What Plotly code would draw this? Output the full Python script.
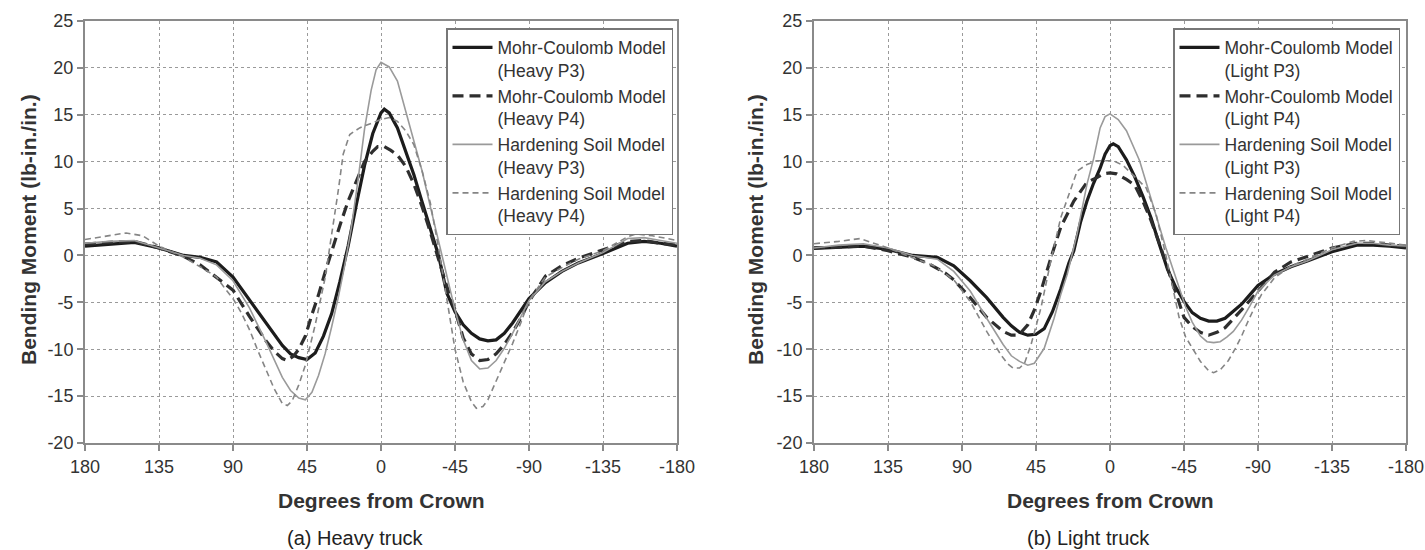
import plotly.graph_objects as go

# ---------------- data (degrees from crown, bending moment lb-in./in.) ----------------
heavy_mc_p3_deg = [180,165,150,135,120,110,100,90,80,70,60,55,50,45,40,35,30,25,20,15,10,5,0,-2,-5,-10,-15,-20,-25,-30,-35,-40,-45,-50,-55,-60,-65,-70,-75,-80,-85,-90,-100,-110,-120,-135,-150,-160,-170,-180]
heavy_mc_p3_val = [1.0,1.2,1.4,0.8,0.0,-0.2,-0.7,-2.3,-4.7,-7.1,-9.6,-10.5,-10.9,-11.1,-10.4,-8.6,-6.2,-2.8,1.0,5.4,9.6,13.0,15.2,15.6,15.2,13.6,11.2,8.6,5.7,2.8,0.0,-4.0,-6.0,-7.4,-8.3,-8.9,-9.1,-9.0,-8.3,-7.2,-5.9,-4.6,-2.9,-1.7,-0.8,0.2,1.3,1.5,1.3,1.0]

heavy_mc_p4_deg = [180,165,150,135,125,120,110,100,90,80,70,65,60,57,53,50,46,42,38,34,30,25,20,15,10,5,2,-2,-6,-10,-15,-20,-25,-30,-35,-40,-45,-50,-55,-60,-65,-70,-75,-80,-85,-90,-100,-110,-120,-135,-150,-160,-170,-180]
heavy_mc_p4_val = [1.2,1.4,1.5,0.8,0.2,-0.1,-1.0,-2.3,-3.7,-6.5,-9.1,-10.2,-11.0,-11.2,-10.7,-10.0,-8.6,-6.3,-4.2,-1.8,0.5,3.2,5.8,8.0,10.0,11.1,11.6,11.6,11.2,10.7,9.5,7.6,5.2,2.5,-0.3,-3.3,-5.8,-8.8,-10.5,-11.2,-11.1,-10.5,-9.5,-8.2,-6.7,-4.9,-2.2,-1.1,-0.3,0.6,1.5,1.6,1.3,1.1]

heavy_hs_p3_deg = [180,165,150,135,120,110,100,90,80,70,60,55,50,46,42,38,34,30,26,22,18,14,10,6,3,0,-5,-10,-15,-20,-25,-30,-35,-40,-45,-50,-55,-60,-65,-70,-75,-80,-85,-90,-100,-110,-120,-135,-150,-160,-170,-180]
heavy_hs_p3_val = [1.3,1.5,1.6,0.8,0.0,-0.3,-1.0,-2.7,-5.6,-9.2,-13.0,-14.4,-15.2,-15.4,-14.6,-12.8,-10.5,-7.6,-4.5,-1.0,3.0,8.0,13.5,17.6,19.8,20.6,20.1,18.6,15.4,12.4,9.0,5.2,1.5,-2.3,-5.8,-9.0,-11.2,-12.1,-12.0,-11.2,-9.9,-8.3,-6.6,-4.8,-2.8,-1.7,-0.8,0.3,1.8,1.9,1.6,1.3]

heavy_hs_p4_deg = [180,165,155,145,135,125,120,110,100,95,90,85,80,75,70,65,60,57,54,50,46,40,34,30,26,23,19,13,5,0,-5,-10,-15,-20,-25,-30,-35,-40,-45,-50,-55,-58,-62,-65,-70,-75,-80,-85,-90,-100,-110,-120,-135,-150,-155,-165,-180]
heavy_hs_p4_val = [1.7,2.1,2.4,2.1,1.0,0.2,-0.2,-1.2,-2.3,-3.5,-4.6,-6.1,-7.9,-10.1,-12.2,-14.2,-15.8,-16.0,-15.5,-13.8,-11.7,-7.4,-2.4,2.2,6.9,10.8,12.9,13.6,14.2,14.5,14.7,14.3,13.3,11.8,9.0,5.6,0.8,-4.5,-10.0,-13.5,-15.6,-16.3,-16.1,-15.4,-13.4,-11.4,-9.4,-7.2,-4.8,-2.3,-1.3,-0.4,0.5,2.0,2.3,2.1,1.6]

light_mc_p3_deg = [180,165,150,135,120,105,95,85,75,65,60,55,50,45,40,35,30,25,22,18,14,10,6,3,0,-2,-5,-10,-15,-20,-25,-30,-35,-40,-45,-50,-55,-60,-65,-70,-75,-80,-85,-90,-100,-110,-120,-135,-150,-160,-170,-180]
light_mc_p3_val = [0.75,0.9,1.0,0.65,0.0,-0.2,-1.1,-2.7,-4.5,-6.6,-7.5,-8.2,-8.5,-8.4,-7.8,-6.0,-3.6,-0.8,0.5,3.5,5.8,7.7,9.3,10.8,11.7,11.9,11.6,10.2,8.4,6.3,4.0,1.2,-1.5,-3.4,-4.9,-6.1,-6.7,-7.0,-7.0,-6.7,-6.0,-5.2,-4.2,-3.2,-2.0,-1.2,-0.6,0.4,1.1,1.1,1.0,0.8]

light_mc_p4_deg = [180,165,150,135,120,110,100,95,85,75,65,60,57,54,50,46,42,36,30,22,14,8,4,0,-4,-10,-15,-20,-25,-30,-35,-40,-45,-50,-55,-60,-65,-70,-75,-80,-85,-90,-100,-110,-120,-135,-150,-160,-170,-180]
light_mc_p4_val = [0.8,0.9,1.0,0.5,-0.2,-0.9,-1.9,-2.6,-4.5,-6.6,-8.1,-8.5,-8.5,-8.2,-7.4,-5.8,-3.8,-0.3,3.0,5.8,7.8,8.3,8.7,8.8,8.7,8.1,7.5,5.8,3.7,1.3,-1.3,-3.8,-6.6,-7.6,-8.2,-8.5,-8.2,-7.7,-6.8,-5.8,-4.8,-3.8,-1.8,-0.7,-0.1,0.8,1.3,1.3,1.1,1.0]

light_hs_p3_deg = [180,165,150,135,120,105,95,85,75,65,60,55,50,46,40,34,30,26,20,14,10,6,3,0,-5,-10,-18,-26,-30,-34,-38,-42,-46,-50,-55,-59,-63,-67,-71,-75,-80,-85,-90,-100,-110,-120,-135,-150,-160,-170,-180]
light_hs_p3_val = [0.8,1.1,1.25,0.8,0.0,-0.4,-1.7,-3.8,-6.7,-9.5,-10.7,-11.3,-11.7,-11.5,-9.9,-6.7,-4.2,-2.0,2.3,7.6,10.3,13.6,14.8,15.1,14.5,13.3,10.1,5.4,3.0,0.8,-1.3,-3.5,-5.5,-7.1,-8.6,-9.2,-9.3,-9.2,-8.7,-8.1,-6.9,-5.4,-3.8,-2.1,-1.2,-0.6,0.6,1.3,1.3,1.1,1.0]

light_hs_p4_deg = [180,165,152,135,120,107,95,85,75,66,62,59,55,52,48,42,36,30,22,20,14,8,2,-2,-8,-14,-22,-28,-34,-38,-42,-46,-50,-55,-60,-63,-67,-72,-76,-80,-84,-88,-92,-100,-110,-120,-135,-148,-156,-170,-180]
light_hs_p4_val = [1.25,1.5,1.8,0.8,-0.25,-1.1,-2.6,-4.9,-8.1,-10.7,-11.6,-12.0,-12.0,-11.5,-9.5,-5.6,-0.6,4.0,8.0,9.0,9.7,10.1,10.1,10.1,9.6,8.6,7.2,4.4,0.0,-3.3,-6.6,-8.7,-9.8,-11.3,-12.3,-12.5,-12.2,-11.2,-10.0,-8.6,-7.0,-5.5,-4.2,-2.4,-1.1,-0.4,0.8,1.5,1.6,1.3,1.1]

x_ticks = [180, 135, 90, 45, 0, -45, -90, -135, -180]
x_tick_labels = ["180", "135", "90", "45", "0", "-45", "-90", "-135", "-180"]
y_ticks = [-20, -15, -10, -5, 0, 5, 10, 15, 20, 25]
y_tick_labels = ["-20", "-15", "-10", "-5", "0", "5", "10", "15", "20", "25"]

model_names = ["Mohr-Coulomb Model", "Mohr-Coulomb Model", "Hardening Soil Model", "Hardening Soil Model"]
heavy_cases = ["(Heavy P3)", "(Heavy P4)", "(Heavy P3)", "(Heavy P4)"]
light_cases = ["(Light P3)", "(Light P4)", "(Light P3)", "(Light P4)"]

# ---------------- styling ----------------
W, H = 1425, 550
FONT = "Liberation Sans, Arial, sans-serif"
styles = [
    dict(color="#1c1c1c", width=3.2, dash="solid"),
    dict(color="#2e2e2e", width=3.2, dash="11px,6px"),
    dict(color="#9a9a9a", width=1.6, dash="solid"),
    dict(color="#858585", width=1.6, dash="6px,4px"),
]

fig = go.Figure()

heavy = [(heavy_mc_p3_deg, heavy_mc_p3_val), (heavy_mc_p4_deg, heavy_mc_p4_val),
         (heavy_hs_p3_deg, heavy_hs_p3_val), (heavy_hs_p4_deg, heavy_hs_p4_val)]
light = [(light_mc_p3_deg, light_mc_p3_val), (light_mc_p4_deg, light_mc_p4_val),
         (light_hs_p3_deg, light_hs_p3_val), (light_hs_p4_deg, light_hs_p4_val)]

for i, (xd, yd) in enumerate(heavy):
    fig.add_trace(go.Scatter(x=xd, y=yd, mode="lines", line=styles[i],
                             name=model_names[i] + "<br>" + heavy_cases[i],
                             xaxis="x", yaxis="y", legend="legend"))
for i, (xd, yd) in enumerate(light):
    fig.add_trace(go.Scatter(x=xd, y=yd, mode="lines", line=styles[i],
                             name=model_names[i] + "<br>" + light_cases[i],
                             xaxis="x2", yaxis="y2", legend="legend2"))

def px_x(p):
    return p / W

def px_y(p):
    return 1 - p / H

tickfont = dict(family=FONT, size=18, color="#333333")
xcommon = dict(range=[180, -180], tickvals=x_ticks, ticktext=x_tick_labels, showgrid=True,
               gridcolor="#9a9a9a", griddash="dot", gridwidth=1.2, zeroline=False, showline=True,
               mirror=True, linecolor="#8a8a8a", linewidth=2, ticks="outside", ticklen=6,
               tickwidth=1.5, tickcolor="#8a8a8a", tickfont=tickfont, fixedrange=True,
               automargin=False)
ycommon = dict(range=[-20, 25], tickvals=y_ticks, ticktext=y_tick_labels, showgrid=True,
               gridcolor="#9a9a9a", griddash="dot", gridwidth=1.2, zeroline=False, showline=True,
               mirror=True, linecolor="#8a8a8a", linewidth=2, ticks="outside", ticklen=6,
               tickwidth=1.5, tickcolor="#8a8a8a", tickfont=tickfont, fixedrange=True,
               automargin=False)

legcommon = dict(font=dict(family=FONT, size=17.5, color="#333333"), bgcolor="white",
                 bordercolor="#777777", borderwidth=1.5, xanchor="right", yanchor="top",
                 valign="top", tracegroupgap=0, itemwidth=40)

fig.update_layout(
    width=W, height=H, margin=dict(l=0, r=0, t=0, b=0, autoexpand=False),
    paper_bgcolor="white", plot_bgcolor="white",
    xaxis=dict(domain=[px_x(85), px_x(677)], anchor="y", **xcommon),
    yaxis=dict(domain=[px_y(443), px_y(21)], anchor="x", **ycommon),
    xaxis2=dict(domain=[px_x(814), px_x(1406)], anchor="y2", **xcommon),
    yaxis2=dict(domain=[px_y(443), px_y(21)], anchor="x2", **ycommon),
    legend=dict(x=px_x(673), y=px_y(28), **legcommon),
    legend2=dict(x=px_x(1400), y=px_y(28), **legcommon),
    showlegend=True,
)

title_font = dict(family=FONT, size=21, color="#333333")
sub_font = dict(family=FONT, size=20, color="#222222")
ann = []
for cx, ytx, subx, sub in [(381, 28, 355, "(a) Heavy truck"), (1110, 755, 1088, "(b) Light truck")]:
    ann.append(dict(text="<b>Degrees from Crown</b>", x=px_x(cx), y=px_y(500), xref="paper", yref="paper",
                    showarrow=False, xanchor="center", yanchor="middle", font=title_font))
    ann.append(dict(text="<b>Bending Moment (lb-in./in.)</b>", x=px_x(ytx), y=px_y(230), xref="paper",
                    yref="paper", showarrow=False, xanchor="center", yanchor="middle", textangle=-90,
                    font=title_font))
    ann.append(dict(text=sub, x=px_x(subx), y=px_y(538), xref="paper", yref="paper", showarrow=False,
                    xanchor="center", yanchor="middle", font=sub_font))
fig.update_layout(annotations=ann)

fig.write_html("out.html", config={"displayModeBar": False},
               post_script="document.body.style.margin='0px';document.body.style.padding='0px';"
                           "document.body.style.overflow='hidden';")
